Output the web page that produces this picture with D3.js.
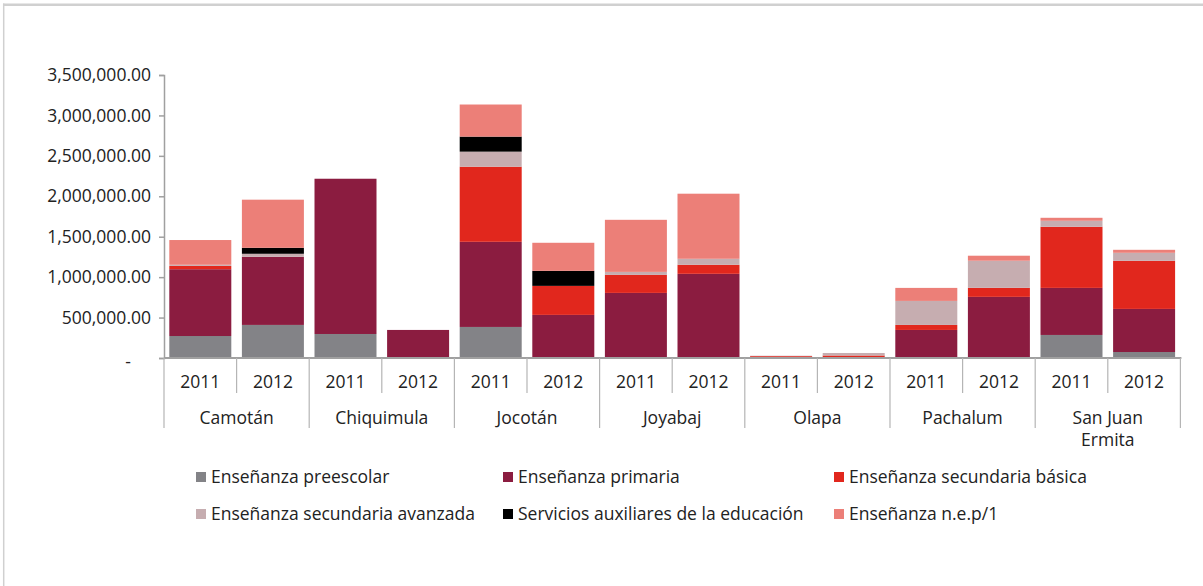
<!DOCTYPE html>
<html>
<head>
<meta charset="utf-8">
<script src="https://cdn.jsdelivr.net/npm/d3@7"></script>
<style>
  body { margin: 0; background: #fff; }
  text { font-family: "Open Sans", sans-serif; fill: #222; }
</style>
</head>
<body>
<div id="chart"></div>
<script>
// municipios y años
var municipios = ["Camotán", "Chiquimula", "Jocotán", "Joyabaj", "Olapa", "Pachalum", "San Juan Ermita"];
var anios = ["2011", "2012"];

// valores por nivel, en el orden municipio/año (14 barras)
var preescolar  = [272000, 409000, 297000, 0, 384000, 0, 0, 0, 0, 0, 0, 0, 285000, 74000];
var primaria    = [826000, 843000, 1920000, 347000, 1053000, 533000, 805000, 1041000, 8000, 0, 347000, 756000, 582000, 533000];
var basica      = [41000, 0, 0, 0, 929000, 359000, 223000, 112000, 15000, 31000, 62000, 112000, 756000, 595000];
var avanzada    = [14000, 37000, 0, 0, 186000, 0, 37000, 74000, 5000, 31000, 297000, 335000, 74000, 99000];
var servicios   = [0, 74000, 0, 0, 186000, 186000, 0, 0, 0, 0, 0, 0, 0, 0];
var nep         = [306000, 595000, 0, 0, 397000, 347000, 644000, 805000, 0, 0, 161000, 62000, 37000, 37000];

var series = ["Enseñanza preescolar", "Enseñanza primaria", "Enseñanza secundaria básica",
              "Enseñanza secundaria avanzada", "Servicios auxiliares de la educación", "Enseñanza n.e.p/1"];
var colores = ["#838387", "#8b1c40", "#e1271d", "#c6adb0", "#000000", "#ec7f78"];
var yTicks = [0, 500000, 1000000, 1500000, 2000000, 2500000, 3000000, 3500000];

var valores = [preescolar, primaria, basica, avanzada, servicios, nep];

// tabla para d3.stack
var filas = [];
municipios.forEach(function(m, i) {
    anios.forEach(function(a, j) {
        var k = i * 2 + j;
        var fila = {key: m + "|" + a, mun: m, anio: a};
        series.forEach(function(s, si) { fila[s] = valores[si][k]; });
        filas.push(fila);
    });
});

var W = 1203, H = 586;
var fs = "17.5px";
var svg = d3.select("#chart").append("svg").attr("width", W).attr("height", H);

// marco gris
svg.append("line").attr("x1", 3).attr("x2", W).attr("y1", 4.7).attr("y2", 4.7)
    .attr("stroke", "#d0d0d0").attr("stroke-width", 2.5);
svg.append("line").attr("x1", 3.7).attr("x2", 3.7).attr("y1", 3.5).attr("y2", H)
    .attr("stroke", "#d0d0d0").attr("stroke-width", 1.5);

var x0 = 164, x1 = 1180.4;
var x = d3.scaleBand().domain(filas.map(function(d) { return d.key; }))
    .range([x0, x1]).paddingInner(0.146).paddingOuter(0.073);
var y = d3.scaleLinear().domain([0, 3500000]).range([358, 75]);

var stack = d3.stack().keys(series);
var capas = stack(filas);

svg.append("g").selectAll("g")
    .data(capas)
    .enter().append("g")
    .attr("fill", function(d, i) { return colores[i]; })
    .selectAll("rect")
    .data(function(d) { return d; })
    .enter().append("rect")
    .attr("x", function(d) { return x(d.data.key); })
    .attr("width", x.bandwidth())
    .attr("y", function(d) { return y(d[1]); })
    .attr("height", function(d) { return y(d[0]) - y(d[1]); });

// eje y
var fmt = d3.format(",.2f");
var ejeY = svg.append("g")
    .attr("transform", "translate(" + x0 + ",0)")
    .call(d3.axisLeft(y).tickValues(yTicks).tickSize(5).tickPadding(8)
        .tickFormat(function(d) { return d === 0 ? "-" : fmt(d); }));
ejeY.select(".domain").attr("stroke", "#a0a0a0").attr("stroke-width", 1.5);
ejeY.selectAll(".tick line").attr("stroke", "#a0a0a0").attr("stroke-width", 1.5);
ejeY.selectAll(".tick text")
    .style("font-family", "'Open Sans', sans-serif").style("font-size", fs).attr("fill", "#222");
ejeY.selectAll(".tick").filter(function(d) { return d === 0; }).select("text")
    .attr("dx", -20).attr("dy", "0.55em");

// eje x: línea base y separadores
svg.append("line").attr("x1", x0).attr("x2", x1 + 1).attr("y1", y(0)).attr("y2", y(0))
    .attr("stroke", "#a0a0a0").attr("stroke-width", 2);

var step = x.step();
d3.range(filas.length + 1).forEach(function(i) {
    var bajo = (i % 2 === 0) ? 428 : 393;
    svg.append("line")
        .attr("x1", x0 + i * step).attr("x2", x0 + i * step)
        .attr("y1", y(0)).attr("y2", bajo)
        .attr("stroke", "#b5b5b5").attr("stroke-width", 1.2);
});

svg.append("g").selectAll("text")
    .data(filas)
    .enter().append("text")
    .attr("x", function(d) { return x(d.key) + x.bandwidth() / 2; })
    .attr("y", 388)
    .attr("text-anchor", "middle")
    .style("font-size", fs)
    .text(function(d) { return d.anio; });

var grupos = svg.append("g").selectAll("text")
    .data(municipios)
    .enter().append("text")
    .attr("x", function(d, i) { return x0 + (i * 2 + 1) * step; })
    .attr("y", 424)
    .attr("text-anchor", "middle")
    .style("font-size", fs);
grupos.each(function(d) {
    var t = d3.select(this);
    if (d === "San Juan Ermita") {
        t.append("tspan").attr("x", t.attr("x")).text("San Juan");
        t.append("tspan").attr("x", t.attr("x")).attr("dy", 22).text("Ermita");
    } else {
        t.text(d);
    }
});

// leyenda
var colX = [196, 503, 834], filaY = [472, 509];
var ley = svg.append("g").selectAll("g")
    .data(series)
    .enter().append("g")
    .attr("transform", function(d, i) {
        return "translate(" + colX[i % 3] + "," + filaY[Math.floor(i / 3)] + ")";
    });
ley.append("rect").attr("width", 10).attr("height", 10)
    .attr("fill", function(d, i) { return colores[i]; });
ley.append("text").attr("x", 15).attr("y", 5).attr("dy", "0.35em")
    .style("font-size", fs)
    .text(function(d) { return d; });
</script>
</body>
</html>
